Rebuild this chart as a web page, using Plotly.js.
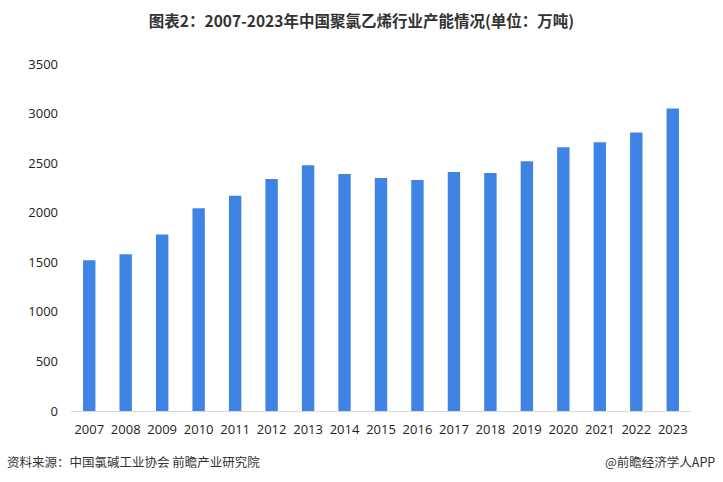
<!DOCTYPE html>
<html>
<head>
<meta charset="utf-8">
<script src="https://cdn.plot.ly/plotly-3.0.1.min.js"></script>
<style>html,body{margin:0;padding:0;background:#fff;}#chart{width:723px;height:482px;}</style>
</head>
<body>
<div id="chart"></div>
<script>
const years = ['2007','2008','2009','2010','2011','2012','2013','2014','2015','2016','2017','2018','2019','2020','2021','2022','2023'];
const capacity = [1520,1580,1780,2045,2170,2340,2480,2390,2350,2330,2410,2400,2520,2660,2710,2810,3050];
const yTicks = [0,500,1000,1500,2000,2500,3000,3500];

const font = '"Microsoft YaHei","Noto Sans CJK SC","Noto Sans",sans-serif';
const tickFont = '"Open Sans","Noto Sans",sans-serif';

const trace = {
  type: 'bar',
  x: years,
  y: capacity,
  marker: {color: '#3F84E5'},
  hoverinfo: 'x+y'
};

const layout = {
  width: 723,
  height: 482,
  margin: {l: 71, r: 32, t: 64, b: 71},
  paper_bgcolor: '#ffffff',
  plot_bgcolor: '#ffffff',
  bargap: 0.66,
  showlegend: false,
  title: {
    text: '<b>图表2：2007-2023年中国聚氯乙烯行业产能情况(单位：万吨)</b>',
    x: 0.5, xanchor: 'center', y: 0.956, yanchor: 'middle',
    font: {family: font, size: 15.5, color: '#333333'}
  },
  xaxis: {
    type: 'category',
    showgrid: false,
    showline: true,
    linecolor: '#d9d9d9',
    linewidth: 1,
    ticks: '',
    ticklabelstandoff: 6,
    tickfont: {family: tickFont, size: 13, color: '#222222'},
    fixedrange: true
  },
  yaxis: {
    range: [0, 3500],
    tickvals: yTicks,
    ticktext: yTicks.map(String),
    showgrid: false,
    zeroline: false,
    showline: false,
    ticks: '',
    ticklabelstandoff: 12,
    tickfont: {family: tickFont, size: 13, color: '#222222'},
    fixedrange: true
  },
  annotations: [
    {text: '资料来源：中国氯碱工业协会 前瞻产业研究院', xref: 'paper', yref: 'paper', x: 0, xshift: -66, y: 0, yshift: -50, xanchor: 'left', yanchor: 'middle', showarrow: false, font: {family: font, size: 12.5, color: '#333333'}},
    {text: '@前瞻经济学人APP', xref: 'paper', yref: 'paper', x: 1, xshift: 26, y: 0, yshift: -50, xanchor: 'right', yanchor: 'middle', showarrow: false, font: {family: font, size: 12.5, color: '#333333'}}
  ]
};

Plotly.newPlot('chart', [trace], layout, {displayModeBar: false, staticPlot: true});
</script>
</body>
</html>
